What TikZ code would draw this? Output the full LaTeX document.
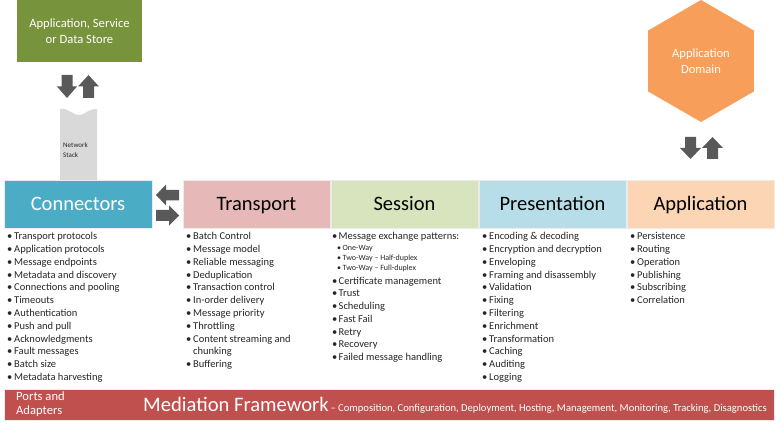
\documentclass[tikz,border=0pt]{standalone}
\usepackage{fontspec}
\setmainfont{Carlito}
\definecolor{greenbox}{HTML}{77933C}
\definecolor{connc}{HTML}{4BACC6}
\definecolor{transc}{HTML}{E6B9B8}
\definecolor{sessc}{HTML}{D7E4BD}
\definecolor{presc}{HTML}{B7DEE8}
\definecolor{appc}{HTML}{FCD5B5}
\definecolor{hexc}{HTML}{F79F5A}
\definecolor{barc}{HTML}{C0504D}
\definecolor{arrowc}{HTML}{595959}
\definecolor{stackc}{HTML}{D9D9D9}
\definecolor{txt}{HTML}{262626}
\newcommand{\bul}[1]{\makebox[#1][l]{\textbullet}}
\begin{document}
\begin{tikzpicture}[x=1pt,y=-1pt,
  layer/.style={draw=black!8, line width=0.6pt, minimum width=147pt, minimum height=48pt,
    inner sep=0pt, text height=13pt, text depth=0pt, font=\fontsize{20.5}{24}\selectfont, text=black},
  item/.style={anchor=base west, inner sep=0pt, text=txt, font=\fontsize{10.5}{12}\selectfont},
  subitem/.style={anchor=base west, inner sep=0pt, text=txt, font=\fontsize{8}{9}\selectfont},
  blockarrow/.style={fill=arrowc, draw=none},
  wtext/.style={text=white, align=center, inner sep=0pt, font=\fontsize{12.6}{16}\selectfont}]
\useasboundingbox (0,0) rectangle (776,427);
\fill[white] (0,0) rectangle (776,427);

% top-left application box
\node[fill=greenbox, minimum width=125pt, minimum height=62pt, inner sep=0pt] (store) at (79.5,31) {};
\node[wtext] (storetxt) at (79.5,31) {Application, Service\\or Data Store};

% arrows under store
\fill[blockarrow] (61.5,75) -- (72.5,75) -- (72.5,86.5) -- (77,86.5) -- (67,98) -- (57,86.5) -- (61.5,86.5) -- cycle;
\fill[blockarrow] (83,98) -- (94,98) -- (94,86.5) -- (99,86.5) -- (88.5,75) -- (78,86.5) -- (83,86.5) -- cycle;

% network stack
\fill[stackc] (60,180) -- (60,109) .. controls (68,107.5) and (74,116) .. (80,115)
  .. controls (86,114) and (90,108) .. (97,109) -- (97,180) -- cycle;
\node[inner sep=0pt, align=left, anchor=west, font=\fontsize{7}{10}\selectfont, text=txt] (stack) at (63,150) {Network\\Stack};

% hexagon
\fill[hexc] (701,0) -- (753.8,30.5) -- (753.8,91.5) -- (701,122) -- (648.2,91.5) -- (648.2,30.5) -- cycle;
\node[wtext] (domain) at (701,61.5) {Application\\Domain};

% arrows under hexagon
\fill[blockarrow] (685,137) -- (696,137) -- (696,148) -- (701,148) -- (690.5,159) -- (680,148) -- (685,148) -- cycle;
\fill[blockarrow] (707,159) -- (718,159) -- (718,148) -- (723,148) -- (712.5,137) -- (702,148) -- (707,148) -- cycle;

% layer boxes
\node[layer, fill=connc, text=white, minimum width=148pt] (conn) at (78,204) {Connectors};
\node[layer, fill=transc] (trans) at (256.5,204) {Transport};
\node[layer, fill=sessc] (sess) at (404.5,204) {Session};
\node[layer, fill=presc] (pres) at (552.5,204) {Presentation};
\node[layer, fill=appc] (app) at (700.5,204) {Application};

% arrows between connectors and transport
\fill[blockarrow] (156,195) -- (166,184.5) -- (166,190) -- (179,190) -- (179,200.5) -- (166,200.5) -- (166,205.5) -- cycle;
\fill[blockarrow] (179,215.5) -- (169,205.5) -- (169,210) -- (156,210) -- (156,221) -- (169,221) -- (169,225.5) -- cycle;

% lists
\foreach \t [count=\i from 0] in {Transport protocols, Application protocols, Message endpoints,
  Metadata and discovery, Connections and pooling, Timeouts, Authentication, Push and pull,
  Acknowledgments, Fault messages, Batch size, Metadata harvesting}
  \node[item] (c\i) at (7,240+12.75*\i) {\bul{7pt}\t};

\foreach \t [count=\i from 0] in {Batch Control, Message model, Reliable messaging, Deduplication,
  Transaction control, In-order delivery, Message priority, Throttling, Content streaming and}
  \node[item] (t\i) at (186,240+12.75*\i) {\bul{7pt}\t};
\node[item] (t9) at (193,240+12.75*9) {chunking};
\node[item] (t10) at (186,240+12.75*10) {\bul{7pt}Buffering};

\node[item] (s0) at (332,240) {\bul{6.5pt}Message exchange patterns:};
\node[subitem] (sa) at (337,250.5) {\bul{5.5pt}One-Way};
\node[subitem] (sb) at (337,260.5) {\bul{5.5pt}Two-Way – Half-duplex};
\node[subitem] (sc) at (337,270.5) {\bul{5.5pt}Two-Way – Full-duplex};
\foreach \t [count=\i from 1] in {Certificate management, Trust, Scheduling, Fast Fail, Retry,
  Recovery, Failed message handling}
  \node[item] (s\i) at (332,271.5+12.75*\i) {\bul{6.5pt}\t};

\foreach \t [count=\i from 0] in {Encoding \& decoding, Encryption and decryption, Enveloping,
  Framing and disassembly, Validation, Fixing, Filtering, Enrichment, Transformation, Caching,
  Auditing, Logging}
  \node[item] (p\i) at (482,240+12.75*\i) {\bul{7pt}\t};

\foreach \t [count=\i from 0] in {Persistence, Routing, Operation, Publishing, Subscribing, Correlation}
  \node[item] (a\i) at (630,240+12.75*\i) {\bul{7pt}\t};

% bottom bar
\node[fill=barc, draw=black!8, line width=0.6pt, minimum width=770pt, minimum height=31pt, inner sep=0pt] (bar) at (389,405) {};
\node[text=white, align=left, anchor=west, inner sep=0pt, font=\fontsize{12.6}{14}\selectfont] (ports) at (16,404.5) {Ports and\\Adapters};
\node[text=white, anchor=base west, inner sep=0pt] (med) at (143,411.5)
  {{\fontsize{20.6}{24}\selectfont Mediation Framework}{\fontsize{10.6}{12}\selectfont\,– Composition, Configuration, Deployment, Hosting, Management, Monitoring, Tracking, Disagnostics}};
\end{tikzpicture}
\end{document}
